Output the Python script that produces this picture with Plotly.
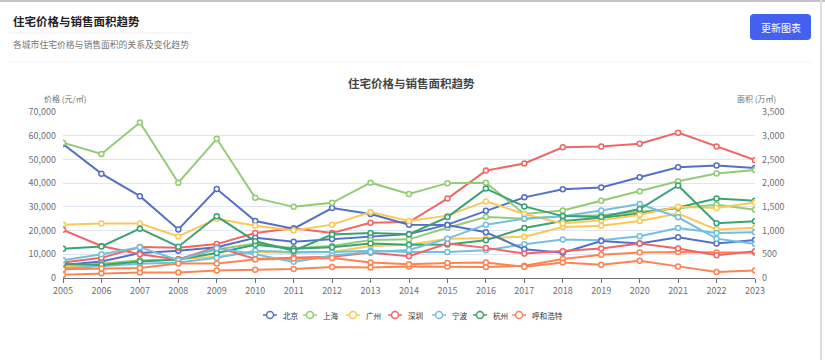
import plotly.graph_objects as go

years = list(range(2005, 2024))
cities = ["北京", "上海", "广州", "深圳", "宁波", "杭州", "呼和浩特"]
colors = ["#5470c6", "#91cc75", "#fac858", "#ee6666", "#73c0de", "#3ba272", "#fc8452"]

# 价格 (元/㎡)
price_bj = [5500, 7000, 10500, 11500, 13000, 17000, 15300, 16400, 17500, 18500, 22500, 28400, 34000, 37400, 38200, 42500, 46700, 47400, 46400]
price_sh = [5000, 6000, 7500, 7800, 12000, 14500, 12500, 13500, 16000, 16300, 21200, 25700, 25000, 26000, 26500, 28000, 29700, 30900, 28800]
price_gz = [4500, 5500, 7000, 8000, 9000, 11000, 10500, 11000, 13500, 14000, 16500, 16800, 17400, 21500, 22000, 24000, 27200, 20400, 21200]
price_sz = [6500, 8500, 13100, 12800, 14300, 19000, 21000, 19000, 23300, 23600, 33500, 45300, 48300, 55100, 55500, 56600, 61300, 55500, 49700]
price_nb = [4000, 5000, 6000, 6500, 8500, 11500, 11000, 11000, 11500, 11000, 11000, 11700, 14200, 16200, 15900, 17600, 21100, 19000, 19300]
price_hz = [6000, 5500, 7000, 7800, 10500, 14000, 12300, 13000, 14500, 14000, 14100, 15900, 21100, 24000, 25400, 27200, 29700, 33500, 32600]
price_hh = [1400, 2000, 2300, 2300, 3200, 3500, 3800, 4600, 4400, 4900, 4900, 4600, 5200, 8000, 9800, 10800, 11000, 10800, 10600]

# 销售面积 (万㎡)
area_bj = [2825, 2200, 1725, 1025, 1875, 1200, 1040, 1475, 1350, 1125, 1115, 965, 605, 535, 780, 725, 860, 730, 800]
area_sh = [2850, 2615, 3280, 2010, 2935, 1690, 1500, 1585, 2010, 1770, 2000, 2010, 1350, 1425, 1630, 1830, 2040, 2205, 2275]
area_gz = [1125, 1150, 1150, 875, 1250, 1100, 1000, 1125, 1390, 1200, 1315, 1615, 1350, 1150, 1215, 1335, 1500, 1475, 1590]
area_sz = [1015, 675, 500, 390, 650, 400, 425, 450, 535, 460, 725, 635, 515, 565, 620, 725, 620, 480, 565]
area_nb = [375, 500, 650, 375, 625, 500, 340, 475, 550, 590, 830, 1125, 1250, 1300, 1425, 1560, 1280, 830, 715]
area_hz = [615, 665, 1040, 660, 1300, 775, 575, 915, 950, 925, 1285, 1885, 1510, 1305, 1285, 1455, 1950, 1155, 1195]
area_hh = [185, 200, 210, 305, 305, 390, 410, 420, 325, 290, 315, 325, 235, 325, 280, 365, 245, 125, 160]

prices = [price_bj, price_sh, price_gz, price_sz, price_nb, price_hz, price_hh]
areas = [area_bj, area_sh, area_gz, area_sz, area_nb, area_hz, area_hh]

FONT = "Noto Sans CJK SC, Noto Sans, sans-serif"
W, H = 825, 360
L, R, T, B = 63, 70, 112, 82
PW, PH = W - L - R, H - T - B


def px(x):
    return (x - L) / PW


def py(y):
    return (H - B - y) / PH


fig = go.Figure()
for name, c, p, a in zip(cities, colors, prices, areas):
    fig.add_trace(go.Scatter(
        x=years, y=p, name=name, legendgroup=name, mode="lines+markers",
        line=dict(color=c, width=2),
        marker=dict(symbol="circle", size=5, color="white", line=dict(color=c, width=1.5)),
        yaxis="y", showlegend=False))
    fig.add_trace(go.Scatter(
        x=years, y=a, name=name, legendgroup=name, showlegend=False, mode="lines+markers",
        line=dict(color=c, width=2),
        marker=dict(symbol="circle", size=5, color="white", line=dict(color=c, width=1.5)),
        yaxis="y2"))

tickfont = dict(family=FONT, size=9, color="#6e7079")

fig.update_layout(
    width=W, height=H,
    margin=dict(l=L, r=R, t=T, b=B),
    paper_bgcolor="white", plot_bgcolor="white",
    font=dict(family=FONT),
    xaxis=dict(range=[2005, 2023], tickmode="array", tickvals=years,
               ticktext=[str(y) for y in years], tickfont=tickfont,
               showgrid=False, zeroline=False, showline=True, linecolor="#6e7079",
               linewidth=1, ticks="outside", ticklen=4, tickcolor="#6e7079"),
    yaxis=dict(range=[0, 70000], dtick=10000, tickformat=",d", tickfont=tickfont,
               showgrid=True, gridcolor="#e0e6f1", zeroline=False, showline=False,
               ticks="", ticklabelstandoff=6),
    yaxis2=dict(range=[0, 3500], dtick=500, tickformat=",d", tickfont=tickfont,
                overlaying="y", side="right", showgrid=False, zeroline=False,
                showline=False, ticks="", ticklabelstandoff=6),
)

shapes = []
# card edges
shapes.append(dict(type="line", xref="paper", yref="paper", x0=px(0), x1=px(825),
                   y0=py(1), y1=py(1), line=dict(color="#c4c4c4", width=2)))
shapes.append(dict(type="line", xref="paper", yref="paper", x0=px(821), x1=px(821),
                   y0=py(0), y1=py(360), line=dict(color="#dedede", width=2)))
# header separator lines
shapes.append(dict(type="line", xref="paper", yref="paper", x0=px(8), x1=px(192),
                   y0=py(33), y1=py(33), line=dict(color="#eeeeee", width=1)))
shapes.append(dict(type="line", xref="paper", yref="paper", x0=px(8), x1=px(812),
                   y0=py(62), y1=py(62), line=dict(color="#f2f2f2", width=1)))
# button
bx0, bx1, by0, by1, rr = 750, 811, 14, 40, 4
path = (f"M {px(bx0+rr)},{py(by0)} L {px(bx1-rr)},{py(by0)} "
        f"Q {px(bx1)},{py(by0)} {px(bx1)},{py(by0+rr)} L {px(bx1)},{py(by1-rr)} "
        f"Q {px(bx1)},{py(by1)} {px(bx1-rr)},{py(by1)} L {px(bx0+rr)},{py(by1)} "
        f"Q {px(bx0)},{py(by1)} {px(bx0)},{py(by1-rr)} L {px(bx0)},{py(by0+rr)} "
        f"Q {px(bx0)},{py(by0)} {px(bx0+rr)},{py(by0)} Z")
shapes.append(dict(type="path", xref="paper", yref="paper", path=path,
                   fillcolor="#4361ee", line=dict(width=0)))

ann = [
    dict(text="<b>住宅价格与销售面积趋势</b>", x=px(11), y=py(21), xanchor="left", yanchor="middle",
         font=dict(family=FONT, size=11.5, color="#222")),
    dict(text="各城市住宅价格与销售面积的关系及变化趋势", x=px(11), y=py(44), xanchor="left",
         yanchor="middle", font=dict(family=FONT, size=8.8, color="#777")),
    dict(text="更新图表", x=px((bx0 + bx1) / 2), y=py((by0 + by1) / 2), xanchor="center",
         yanchor="middle", font=dict(family=FONT, size=10, color="white")),
    dict(text="<b>住宅价格与销售面积趋势</b>", x=px(411), y=py(83), xanchor="center",
         yanchor="middle", font=dict(family=FONT, size=11.5, color="#464646")),
    dict(text="价格 (元/㎡)", x=px(42), y=py(99), xanchor="left", yanchor="middle",
         font=dict(family=FONT, size=8, color="#6e7079")),
    dict(text="面积 (万㎡)", x=px(778), y=py(99), xanchor="right", yanchor="middle",
         font=dict(family=FONT, size=8, color="#6e7079")),
]

# legend drawn by hand (compact, ECharts-like)
leg_x = [263, 303, 346, 388, 432, 473, 512]
leg_y = 315
for name, c, lx in zip(cities, colors, leg_x):
    shapes.append(dict(type="line", xref="paper", yref="paper", x0=px(lx), x1=px(lx + 14),
                       y0=py(leg_y), y1=py(leg_y), line=dict(color=c, width=1.5)))
    shapes.append(dict(type="circle", xref="paper", yref="paper", x0=px(lx + 3.5),
                       x1=px(lx + 10.5), y0=py(leg_y + 3.5), y1=py(leg_y - 3.5),
                       fillcolor="white", line=dict(color=c, width=1.5)))
    ann.append(dict(text=name, x=px(lx + 18), y=py(leg_y), xanchor="left", yanchor="middle",
                    font=dict(family=FONT, size=7.6, color="#333")))

for a in ann:
    a.update(xref="paper", yref="paper", showarrow=False)
fig.update_layout(shapes=shapes, annotations=ann)

fig.write_html("out.html", config={"displayModeBar": False},
               post_script="document.body.style.margin='0';document.body.style.padding='0';")
